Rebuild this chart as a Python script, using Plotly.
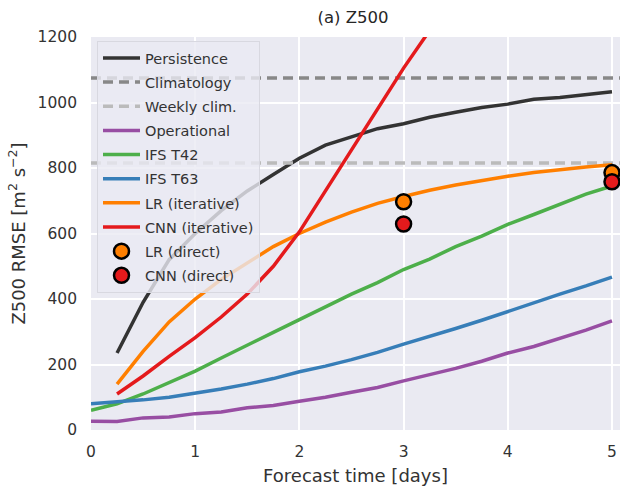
import plotly.graph_objects as go

# ---- data ----
t_full = [0, 0.25, 0.5, 0.75, 1.0, 1.25, 1.5, 1.75, 2.0, 2.25, 2.5, 2.75, 3.0,
          3.25, 3.5, 3.75, 4.0, 4.25, 4.5, 4.75, 5.0]
t_from6h = t_full[1:]

persistence = [235, 390, 520, 600, 670, 730, 780, 830, 870, 895, 920, 935,
               955, 970, 985, 995, 1010, 1015, 1025, 1033]
climatology = 1075
weekly_clim = 815
operational = [27, 26, 37, 40, 50, 55, 68, 75, 88, 100, 115, 130, 150, 168,
               188, 210, 235, 255, 280, 305, 333]
ifs_t42 = [60, 80, 110, 145, 180, 220, 258, 298, 337, 375, 415, 450, 490, 522,
           560, 592, 628, 658, 690, 720, 745]
ifs_t63 = [80, 85, 92, 100, 112, 125, 140, 157, 178, 195, 215, 237, 262, 285,
           310, 335, 362, 388, 415, 440, 467]
lr_iter = [140, 240, 330, 400, 460, 510, 560, 600, 635, 665, 692, 713, 732,
           748, 762, 775, 786, 795, 803, 810]
cnn_t = [0.25, 0.5, 0.75, 1.0, 1.25, 1.5, 1.75, 2.0, 2.25, 2.5, 2.75, 3.0, 3.25, 3.5]
cnn_iter = [110, 165, 225, 282, 345, 415, 500, 605, 730, 855, 980, 1105, 1220, 1330]
direct_t = [3, 5]
lr_direct = [697, 786]
cnn_direct = [629, 758]

fig = go.Figure()

def line(x, y, name, color, dash="solid", width=3.5):
    fig.add_trace(go.Scatter(x=x, y=y, mode="lines", name=name, legendgroup=name,
                             line=dict(color=color, width=width, dash=dash)))

line(t_from6h, persistence, "Persistence", "#333333")
line([0, 5.1], [climatology] * 2, "Climatology", "#888888", dash="10px,6px", width=3.5)
line([0, 5.1], [weekly_clim] * 2, "Weekly clim.", "#bbbbbb", dash="10px,6px", width=3.5)
line(t_full, operational, "Operational", "#984ea3")
line(t_full, ifs_t42, "IFS T42", "#4daf4a")
line(t_full, ifs_t63, "IFS T63", "#377eb8")
line(t_from6h, lr_iter, "LR (iterative)", "#ff7f00")
line(cnn_t, cnn_iter, "CNN (iterative)", "#e41a1c")

for name, vals, col in [("LR (direct)", lr_direct, "#ff7f00"),
                        ("CNN (direct)", cnn_direct, "#e41a1c")]:
    fig.add_trace(go.Scatter(x=direct_t, y=vals, mode="markers", name=name,
                             legendgroup=name,
                             marker=dict(color=col, size=15,
                                         line=dict(color="black", width=2.5))))

tick_font = dict(family="DejaVu Sans", size=15.5, color="#333333")
title_font = dict(family="DejaVu Sans", size=18, color="#333333")
fig.update_layout(
    width=620, height=488,
    margin=dict(l=91, r=0, t=37, b=58),
    paper_bgcolor="white",
    plot_bgcolor="#EAEAF2",
    font=dict(family="DejaVu Sans", size=14, color="#333333"),
    title=dict(text="(a) Z500", x=353 / 620, xanchor="center", y=1 - 17 / 488,
               yanchor="middle", font=dict(family="DejaVu Sans", size=16.5, color="#262626")),
    xaxis=dict(range=[0, 5.077], tickvals=[0, 1, 2, 3, 4, 5],
               showgrid=True, gridcolor="white", gridwidth=1.5, zeroline=False,
               showline=False, ticks="", tickfont=tick_font, ticklabelstandoff=10,
               title=dict(text="Forecast time [days]", font=title_font, standoff=9)),
    yaxis=dict(range=[0, 1200], tickvals=[0, 200, 400, 600, 800, 1000, 1200],
               showgrid=True, gridcolor="white", gridwidth=1.5, zeroline=False,
               showline=False, ticks="", tickfont=tick_font, ticklabelstandoff=13,
               title=dict(text="Z500 RMSE [m<sup>2</sup> s<sup>−2</sup>]",
                          font=title_font, standoff=7)),
    legend=dict(x=6 / 529, xref="paper", y=1 - 4 / 391, yanchor="top",
                xanchor="left",
                bgcolor="rgba(234,234,242,0.8)", bordercolor="#d8d8e0", borderwidth=1,
                font=dict(family="DejaVu Sans", size=14.5, color="#333333"),
                tracegroupgap=2.3, itemwidth=37),
)

fig.write_html("out.html")
